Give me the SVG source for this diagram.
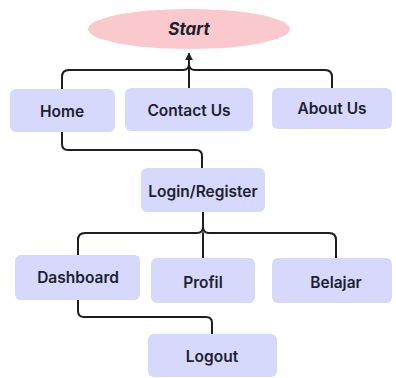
<svg xmlns="http://www.w3.org/2000/svg" width="396" height="378" viewBox="0 0 396 378">
<style>
.box{fill:#d6d9fb;}
.lbl{font-family:Inter,"DejaVu Sans",sans-serif;font-weight:600;font-size:15.5px;fill:#1c2130;text-anchor:middle;dominant-baseline:central;}
.ln{fill:none;stroke:#1e1e1e;stroke-width:2;stroke-linecap:round;stroke-linejoin:round;}
</style>
<defs>
<marker id="arr" viewBox="0 0 10 10" refX="8" refY="5" markerWidth="4" markerHeight="4" orient="auto">
<path d="M0,0 L10,5 L0,10 z" fill="#1e1e1e"/>
</marker>
</defs>
<rect width="396" height="378" fill="#ffffff"/>
<g id="connectors">
<path class="ln" d="M189,88 V54" marker-end="url(#arr)"/>
<path class="ln" d="M62,89 V77 Q62,70 69,70 H183 Q189,70 189,64"/>
<path class="ln" d="M332,88 V77 Q332,70 325,70 H195 Q189,70 189,64"/>
<path class="ln" d="M62,132 V144 Q62,150 68,150 H196 Q202,150 202,156 V168"/>
<path class="ln" d="M203,212 V227 Q203,233 197,233 H85 Q78,233 78,240 V255"/>
<path class="ln" d="M203,227 Q203,233 209,233 H329 Q336,233 336,240 V258"/>
<path class="ln" d="M203,233 V258"/>
<path class="ln" d="M78,300 V311 Q78,317 84,317 H206 Q212,317 212,323 V334"/>
</g>
<g id="start">
<ellipse cx="189" cy="29" rx="101" ry="20" fill="#f9c9cd"/>
<text class="lbl" x="189" y="29" style="font-style:italic;font-size:17px;font-weight:700">Start</text>
</g>
<g id="home">
<rect class="box" x="10" y="89" width="105" height="43" rx="6"/>
<text class="lbl" x="62" y="111">Home</text>
</g>
<g id="contact">
<rect class="box" x="125" y="88" width="128" height="43" rx="6"/>
<text class="lbl" x="189" y="110">Contact Us</text>
</g>
<g id="about">
<rect class="box" x="272" y="88" width="120" height="41" rx="6"/>
<text class="lbl" x="332" y="108">About Us</text>
</g>
<g id="login">
<rect class="box" x="141" y="168" width="124" height="44" rx="6"/>
<text class="lbl" x="203" y="191">Login/Register</text>
</g>
<g id="dashboard">
<rect class="box" x="15" y="255" width="125" height="45" rx="6"/>
<text class="lbl" x="78" y="277">Dashboard</text>
</g>
<g id="profil">
<rect class="box" x="151" y="258" width="104" height="45" rx="6"/>
<text class="lbl" x="203" y="282">Profil</text>
</g>
<g id="belajar">
<rect class="box" x="272" y="258" width="120" height="45" rx="6"/>
<text class="lbl" x="336" y="282">Belajar</text>
</g>
<g id="logout">
<rect class="box" x="148" y="334" width="129" height="43" rx="6"/>
<text class="lbl" x="212" y="356">Logout</text>
</g>
</svg>
